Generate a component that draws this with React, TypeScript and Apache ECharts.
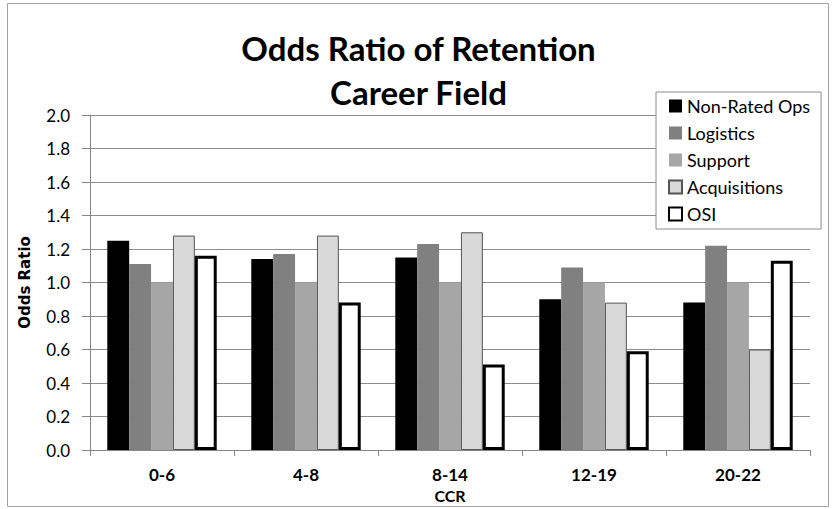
import React, { useEffect, useRef } from "react";
import * as echarts from "echarts";

const categories = ["0-6", "4-8", "8-14", "12-19", "20-22"];
const nonRatedOps = [1.25, 1.14, 1.15, 0.9, 0.88];
const logistics = [1.11, 1.17, 1.23, 1.09, 1.22];
const support = [1.0, 1.0, 1.0, 1.0, 1.0];
const acquisitions = [1.28, 1.28, 1.3, 0.88, 0.6];
const osi = [1.16, 0.88, 0.51, 0.59, 1.13];

const FONT = "Lato, 'Open Sans', sans-serif";

export default function App() {
  const ref = useRef<HTMLDivElement>(null);
  useEffect(() => {
    if (!ref.current) return;
    const chart = echarts.init(ref.current, undefined, { renderer: "svg" });
    const mk = (name: string, data: number[], color: string, borderColor?: string, borderWidth?: number) => ({
      name,
      type: "bar",
      data,
      barGap: "0%",
      barCategoryGap: "24%",
      itemStyle: {
        color,
        borderColor: borderColor || color,
        borderWidth: borderWidth || 0,
      },
    });
    chart.setOption({
      animation: false,
      backgroundColor: "#ffffff",
      title: {
        text: "Odds Ratio of Retention\nCareer Field",
        left: "center",
        top: 21,
        textStyle: {
          fontFamily: FONT,
          fontWeight: "bold",
          fontSize: 33,
          lineHeight: 44,
          color: "#000",
        },
      },
      graphic: [
        {
          type: "rect",
          shape: { x: 7.5, y: 3.5, width: 821, height: 503 },
          style: { fill: "none", stroke: "#a0a0a0", lineWidth: 1 },
          silent: true,
        },
      ],
      legend: {
        orient: "vertical",
        left: 656,
        top: 92,
        backgroundColor: "#ffffff",
        borderColor: "#8c8c8c",
        borderWidth: 1,
        padding: [5, 11, 6, 12],
        itemGap: 9,
        itemWidth: 13,
        itemHeight: 13,
        icon: "rect",
        textStyle: { fontFamily: FONT, fontSize: 18, lineHeight: 18, color: "#000" },
        data: ["Non-Rated Ops", "Logistics", "Support", "Acquisitions", "OSI"],
      },
      grid: { left: 90, right: 27, top: 115, bottom: 59 },
      xAxis: {
        type: "category",
        data: categories,
        name: "CCR",
        nameLocation: "middle",
        nameGap: 35,
        nameTextStyle: { fontFamily: FONT, fontWeight: "bold", fontSize: 16, color: "#000" },
        axisLine: { lineStyle: { color: "#868686", width: 1 } },
        axisTick: { show: true, length: 6, lineStyle: { color: "#868686" } },
        axisLabel: { fontFamily: FONT, fontWeight: "bold", fontSize: 17, color: "#000", margin: 16 },
      },
      yAxis: {
        type: "value",
        min: 0,
        max: 2,
        interval: 0.2,
        name: "Odds Ratio",
        nameLocation: "middle",
        nameGap: 58,
        nameTextStyle: { fontFamily: "'DejaVu Sans', sans-serif", fontWeight: "bold", fontSize: 15, color: "#000" },
        axisLine: { show: true, lineStyle: { color: "#868686" } },
        axisTick: { show: true, length: 8, lineStyle: { color: "#868686" } },
        axisLabel: {
          fontFamily: FONT,
          fontSize: 17,
          color: "#000",
          margin: 20,
          formatter: (v: number) => v.toFixed(1),
        },
        splitLine: { lineStyle: { color: "#8c8c8c", width: 1 } },
      },
      series: [
        mk("Non-Rated Ops", nonRatedOps, "#000000"),
        mk("Logistics", logistics, "#808080"),
        mk("Support", support, "#a6a6a6"),
        mk("Acquisitions", acquisitions, "#d9d9d9", "#555555", 1),
        mk("OSI", osi, "#ffffff", "#000000", 3),
      ],
    });
    return () => chart.dispose();
  }, []);
  return (
    <div
      ref={ref}
      style={{ position: "fixed", left: 0, top: 0, width: 837, height: 509 }}
    />
  );
}
